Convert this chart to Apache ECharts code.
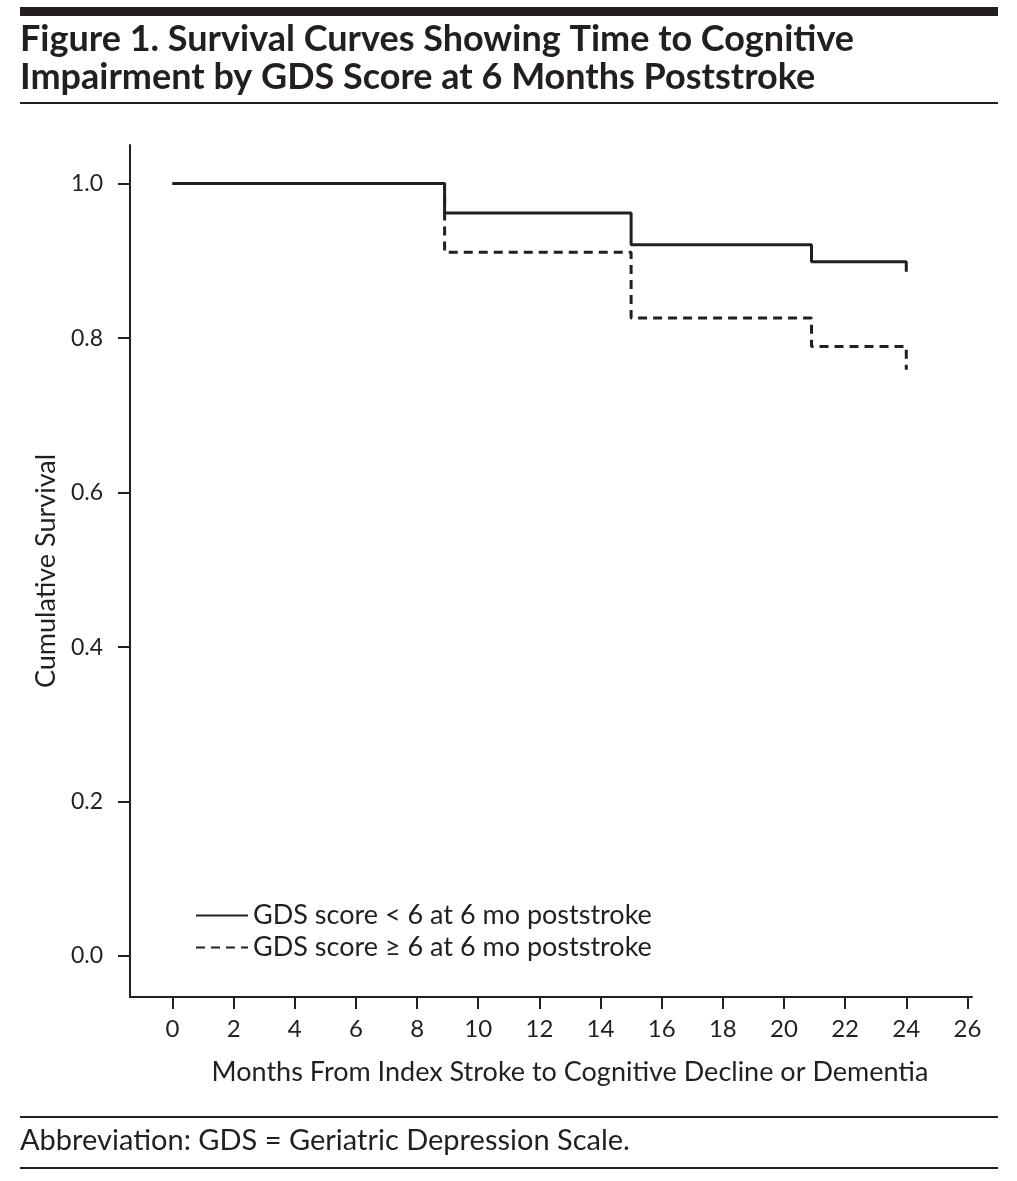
<!DOCTYPE html>
<html>
<head>
<meta charset="utf-8">
<script src="https://cdn.jsdelivr.net/npm/echarts@6/dist/echarts.min.js"></script>
<style>
html,body{margin:0;padding:0;background:#fff;}
#chart{width:1017px;height:1181px;}
</style>
</head>
<body>
<div id="chart"></div>
<script>
// Data
var months = [0, 8.9, 15, 20.9, 24];
var survivalLow = [1.0, 0.962, 0.921, 0.899, 0.886];   // GDS < 6
var survivalHigh = [1.0, 0.911, 0.826, 0.789, 0.759];  // GDS >= 6
var xTicks = [0, 2, 4, 6, 8, 10, 12, 14, 16, 18, 20, 22, 24, 26];
var yTicks = [0, 0.2, 0.4, 0.6, 0.8, 1.0];
var seriesNames = ['GDS score < 6 at 6 mo poststroke', 'GDS score \u2265 6 at 6 mo poststroke'];

var ink = '#231f20';
var font = 'Lato';

function pairs(xs, ys) { return xs.map(function (x, i) { return [x, ys[i]]; }); }

var chart = echarts.init(document.getElementById('chart'), null, { renderer: 'canvas' });
chart.setOption({
  backgroundColor: '#fff',
  animation: false,
  textStyle: { fontFamily: font, color: ink },
  grid: { left: 130, top: 145, right: 45, bottom: 184, containLabel: false },
  xAxis: {
    type: 'value',
    min: -1.39, max: 26.15,
    name: 'Months From Index Stroke to Cognitive Decline or Dementia',
    nameLocation: 'middle', nameGap: 62,
    nameTextStyle: { fontSize: 27, color: ink, fontFamily: font, padding: [0, 0, 0, 38] },
    axisLine: { onZero: false, lineStyle: { color: ink, width: 2 } },
    axisTick: { show: true, customValues: xTicks, length: 12, lineStyle: { color: ink, width: 2 } },
    axisLabel: { customValues: xTicks, fontSize: 24, color: ink, margin: 20, fontFamily: font },
    splitLine: { show: false }
  },
  yAxis: {
    type: 'value',
    min: -0.053, max: 1.05,
    name: 'Cumulative Survival',
    nameLocation: 'middle', nameGap: 68, nameRotate: 90,
    nameTextStyle: { fontSize: 27, color: ink, fontFamily: font },
    axisLine: { show: true, onZero: false, lineStyle: { color: ink, width: 2 } },
    axisTick: { show: true, customValues: yTicks, length: 12, lineStyle: { color: ink, width: 2 } },
    axisLabel: { customValues: yTicks, fontSize: 23, color: ink, margin: 27, fontFamily: font,
      formatter: function (v) { return Number(v).toFixed(1); } },
    splitLine: { show: false }
  },
  legend: {
    orient: 'vertical', left: 190, top: 897, itemWidth: 52, itemHeight: 14, itemGap: 5,
    itemStyle: { opacity: 0 },
    textStyle: { fontSize: 27, color: ink, fontFamily: font },
    data: seriesNames
  },
  series: [
    {
      name: seriesNames[0], type: 'line', step: 'end', showSymbol: false, symbol: 'none',
      lineStyle: { color: ink, width: 3, type: 'solid' },
      itemStyle: { color: ink },
      data: pairs(months, survivalLow), z: 3
    },
    {
      name: seriesNames[1], type: 'line', step: 'end', showSymbol: false, symbol: 'none',
      lineStyle: { color: ink, width: 3, type: [9, 6] },
      itemStyle: { color: ink },
      data: pairs(months, survivalHigh), z: 2
    }
  ],
  graphic: [
    { type: 'rect', left: 20, top: 7, shape: { width: 978, height: 9 }, style: { fill: ink } },
    { type: 'text', left: 20, top: 21, style: { text: 'Figure 1. Survival Curves Showing Time to Cognitive', font: 'bold 36px ' + font, fill: ink } },
    { type: 'text', left: 20, top: 59, style: { text: 'Impairment by GDS Score at 6 Months Poststroke', font: 'bold 36px ' + font, fill: ink } },
    { type: 'rect', left: 20, top: 102, shape: { width: 978, height: 2 }, style: { fill: ink } },
    { type: 'rect', left: 20, top: 1116, shape: { width: 978, height: 2 }, style: { fill: ink } },
    { type: 'text', left: 20, top: 1126, style: { text: 'Abbreviation: GDS = Geriatric Depression Scale.', font: '29px ' + font, fill: ink } },
    { type: 'rect', left: 20, top: 1167, shape: { width: 978, height: 2 }, style: { fill: ink } }
  ]
});
</script>
</body>
</html>
